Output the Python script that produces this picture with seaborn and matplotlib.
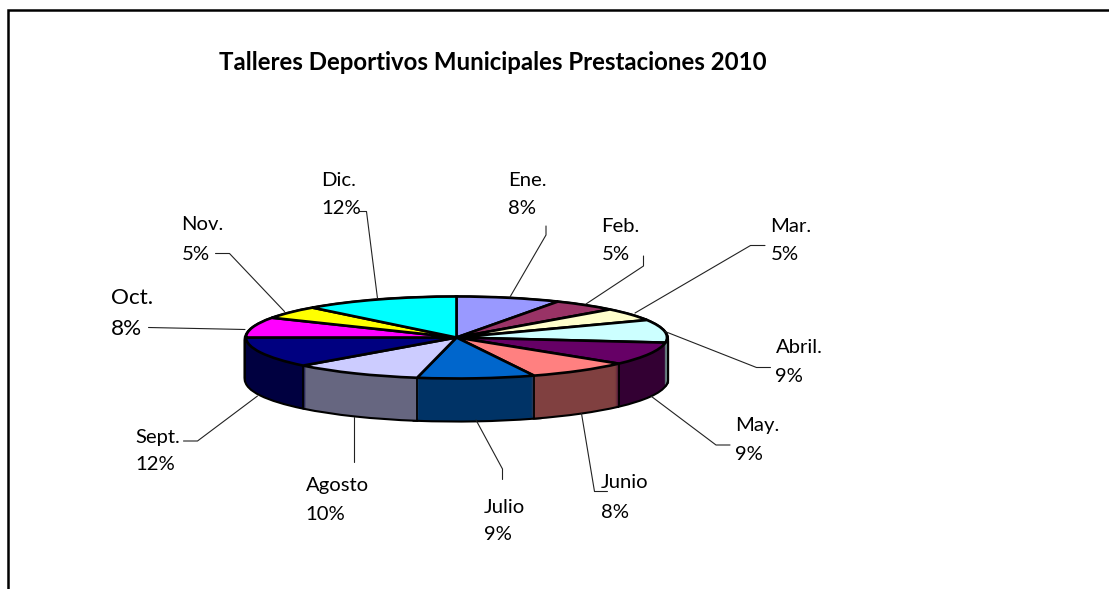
#!/usr/bin/env python

import numpy as np
import matplotlib.pyplot as plt
import seaborn as sns

## ============================== ##

title = 'Talleres Deportivos Municipales Prestaciones 2010'

months = ['Ene.', 'Feb.', 'Mar.', 'Abril.', 'May.', 'Junio', 'Julio', 'Agosto', 'Sept.', 'Oct.', 'Nov.', 'Dic.']
shares = [8, 5, 5, 9, 9, 8, 9, 10, 12, 8, 5, 12]

top_colors = ['#9999FF', '#993366', '#FFFFCC', '#CCFFFF', '#660066', '#FF8080',
	'#0066CC', '#CCCCFF', '#000080', '#FF00FF', '#FFFF00', '#00FFFF']
side_colors = ['#4C4C80', '#4C1A33', '#808066', '#668080', '#330033', '#804040',
	'#003366', '#666680', '#000040', '#800080', '#808000', '#008080']

# left edge of label, y of name line, y of percent line (pixels)
label_x = [508, 601.5, 770.5, 775.5, 735.5, 601, 484, 305.5, 135, 111, 181.5, 321.5]
name_y = [180, 226, 226, 347.5, 426, 483, 507.5, 486, 437, 298, 225, 180]
pct_y = [208, 255, 254, 376, 454, 512, 535, 514, 465, 329, 255, 208]
label_size = [14.6] * 12
label_size[9] = 16.2

# leader lines (pixels)
leaders = [
	[(546, 226), (546, 235), (510, 297)],
	[(643.5, 256), (643.5, 266), (586, 304)],
	[(765, 245.5), (750.5, 245.5), (635, 313)],
	[(770.5, 367.5), (756.5, 367.5), (665, 331.5)],
	[(730, 445), (716, 445), (651.5, 396.5)],
	[(607.5, 491.5), (594.5, 491.5), (581.5, 413.5)],
	[(502.5, 479.5), (502.5, 469), (476, 420)],
	[(353.5, 461.5), (353.5, 416.5)],
	[(183.5, 441), (197.5, 441), (257.5, 396)],
	[(148.5, 327.5), (245, 329.5)],
	[(215.5, 253.5), (229.5, 253.5), (284.5, 311.5)],
	[(359.5, 211.5), (366.5, 211.5), (377.5, 298.5)],
]

## ============================== ##

W, H = 1109, 589
CX, CY = 456.5, 337.5
RX, RY = 210.5, 41.
DEPTH = 42
SQUASH = RY / RX

def to_data(px, py):
	return px, (H - py) / SQUASH

sns.set_theme(style='white')
plt.rcParams['font.family'] = ['Lato', 'DejaVu Sans']

fig = plt.figure(figsize=(W / 100., H / 100.), dpi=100)
ax = fig.add_axes([0, 0, 1, 1])

def draw_pie(colors, depth, edge=None, lw=0., z=1):
	ax.pie(shares, colors=colors, radius=RX, center=to_data(CX, CY + depth),
		startangle=90, counterclock=False, frame=False,
		wedgeprops={'edgecolor': edge if edge else 'none', 'linewidth': lw, 'zorder': z})

# black silhouette, then the coloured side on top of it
for d in range(DEPTH, 0, -1):
	draw_pie(sns.color_palette(side_colors), d, edge='black', lw=3., z=1)
for d in range(DEPTH, 0, -1):
	draw_pie(sns.color_palette(side_colors), d, z=2)

# seams on the front side
cum = np.cumsum(shares) / np.sum(shares)
for c in cum[(cum > 0.3) & (cum < 0.7)]:
	sx = CX + RX * np.sin(2 * np.pi * c)
	sy = CY - RY * np.cos(2 * np.pi * c)
	x0, y0 = to_data(sx, sy)
	x1, y1 = to_data(sx, sy + DEPTH)
	ax.plot([x0, x1], [y0, y1], color='black', lw=1.3, zorder=3, solid_capstyle='butt')

draw_pie(sns.color_palette(top_colors), 0, edge='black', lw=1.9, z=4)

ax.set_aspect('auto')
ax.set_xlim(0, W)
ax.set_ylim(0, H / SQUASH)
ax.axis('off')

## ============================== ##

for pts in leaders:
	xy = [to_data(*p) for p in pts]
	ax.plot([p[0] for p in xy], [p[1] for p in xy], color='#222222', lw=0.8, zorder=5)

for i in range(len(months)):
	x, y = to_data(label_x[i], name_y[i])
	ax.text(x, y, months[i], ha='left', va='center', fontsize=label_size[i], color='black', zorder=6)
	x, y = to_data(label_x[i], pct_y[i])
	ax.text(x, y, '{0:d}%'.format(shares[i]), ha='left', va='center', fontsize=label_size[i], color='black', zorder=6)

x, y = to_data(219, 62)
ax.text(x, y, title, ha='left', va='center', fontsize=17.3, fontweight='bold', color='black', zorder=6)

# outer frame: only left and top sides are inside the crop
xy = [to_data(7.5, H), to_data(7.5, 10), to_data(W, 10)]
ax.plot([p[0] for p in xy], [p[1] for p in xy], color='black', lw=1.8, zorder=7,
	solid_joinstyle='miter', clip_on=False)

fig.savefig('out.png', dpi=100)
